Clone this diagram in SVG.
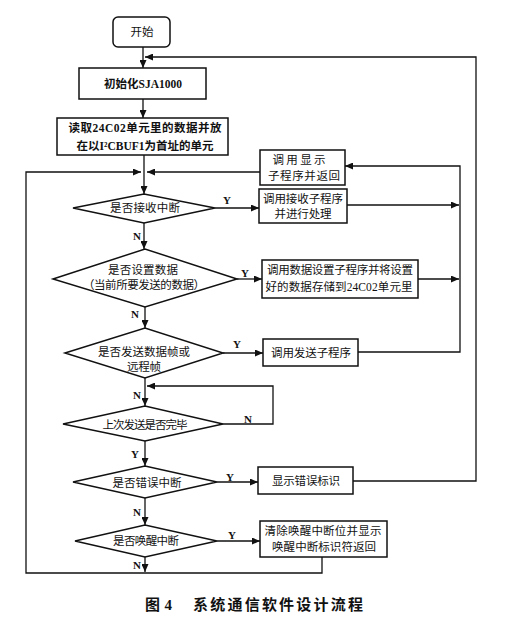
<svg xmlns="http://www.w3.org/2000/svg" width="506" height="617" viewBox="0 0 506 617">
<style>
.box{fill:#fff;stroke:#111;stroke-width:1.5}
.c{fill:none;stroke:#111;stroke-width:1.3}
.t{font-family:"Liberation Serif","Noto Sans CJK SC",serif;font-size:11.5px;text-anchor:middle;fill:#111}
.b{font-weight:bold}
.l{font-family:"Liberation Serif",serif;font-size:11px;font-weight:bold;text-anchor:middle;fill:#111}
.cap{font-family:"Liberation Serif","Noto Sans CJK SC",serif;font-size:15px;font-weight:bold;fill:#111}
</style>
<defs>
<marker id="ah" markerUnits="userSpaceOnUse" markerWidth="8" markerHeight="7" refX="8" refY="3.5" orient="auto">
<path d="M0,0 L8,3.5 L0,7 z" fill="#111"/>
</marker>
</defs>
<rect width="506" height="617" fill="#fff"/>
<g id="connectors">
<path class="c" d="M143,47 V68" marker-end="url(#ah)"/>
<path class="c" d="M143,99 V118" marker-end="url(#ah)"/>
<path class="c" d="M144,155 V194" marker-end="url(#ah)"/>
<path class="c" d="M322,557 V573 H26 V172 H141" marker-end="url(#ah)"/>
<path class="c" d="M260,172 H147" marker-end="url(#ah)"/>
<path class="c" d="M215,208 H259" marker-end="url(#ah)"/>
<path class="c" d="M347,205 H459" marker-end="url(#ah)"/>
<path class="c" d="M144,223 V249" marker-end="url(#ah)"/>
<path class="c" d="M237,279 H262" marker-end="url(#ah)"/>
<path class="c" d="M418,279 H459" marker-end="url(#ah)"/>
<path class="c" d="M145,307 V328" marker-end="url(#ah)"/>
<path class="c" d="M223,353 H263" marker-end="url(#ah)"/>
<path class="c" d="M358,352 H460 V166 H345" marker-end="url(#ah)"/>
<path class="c" d="M145,378 V406" marker-end="url(#ah)"/>
<path class="c" d="M223,424 H273 V386 H147" marker-end="url(#ah)"/>
<path class="c" d="M145,441 V466" marker-end="url(#ah)"/>
<path class="c" d="M217,482 H258" marker-end="url(#ah)"/>
<path class="c" d="M353,481 H476 V57 H145" marker-end="url(#ah)"/>
<path class="c" d="M145,498 V525" marker-end="url(#ah)"/>
<path class="c" d="M217,541 H260" marker-end="url(#ah)"/>
<path class="c" d="M145,557 V572" marker-end="url(#ah)"/>
<text class="l" x="227" y="204">Y</text>
<text class="l" x="137" y="240">N</text>
<text class="l" x="245" y="277">Y</text>
<text class="l" x="135" y="318">N</text>
<text class="l" x="237" y="348">Y</text>
<text class="l" x="137" y="399">N</text>
<text class="l" x="248" y="423">N</text>
<text class="l" x="135" y="458">Y</text>
<text class="l" x="230" y="481">Y</text>
<text class="l" x="137" y="516">N</text>
<text class="l" x="232" y="539">Y</text>
<text class="l" x="137" y="569">N</text>
</g>
<g id="start">
<rect class="box" x="113" y="17" width="57" height="30" rx="5"/>
<text class="t" x="142" y="36" textLength="23">开始</text>
</g>
<g id="init">
<rect class="box" x="79" y="68" width="127" height="31"/>
<text class="t b" x="143" y="88" textLength="78">初始化SJA1000</text>
</g>
<g id="read">
<rect class="box" x="57" y="118" width="171" height="37"/>
<text class="t b" x="145" y="132" textLength="153">读取24C02单元里的数据并放</text>
<text class="t b" x="145" y="150" textLength="137">在以I²CBUF1为首址的单元</text>
</g>
<g id="display">
<rect class="box" x="260" y="150" width="85" height="35"/>
<text class="t" x="299" y="164" textLength="53">调用显示</text>
<text class="t" x="304" y="180" textLength="72">子程序并返回</text>
</g>
<g id="d1">
<polygon class="box" points="73,208 144,194 215,208 144,223"/>
<text class="t" x="145" y="212" textLength="70">是否接收中断</text>
</g>
<g id="recv">
<rect class="box" x="259" y="189" width="88" height="34"/>
<text class="t" x="303" y="203" textLength="80">调用接收子程序</text>
<text class="t" x="303" y="218" textLength="57">并进行处理</text>
</g>
<g id="d2">
<polygon class="box" points="53,279 145,249 237,279 145,307"/>
<text class="t" x="143" y="274" textLength="70">是否设置数据</text>
<text class="t" x="144" y="289" textLength="122">（当前所要发送的数据）</text>
</g>
<g id="set">
<rect class="box" x="262" y="260" width="156" height="38"/>
<text class="t" x="340" y="274" textLength="146">调用数据设置子程序并将设置</text>
<text class="t" x="339" y="291" textLength="147">好的数据存储到24C02单元里</text>
</g>
<g id="d3">
<polygon class="box" points="65,353 145,328 223,353 145,378"/>
<text class="t" x="144" y="356" textLength="92">是否发送数据帧或</text>
<text class="t" x="144" y="371" textLength="34">远程帧</text>
</g>
<g id="send">
<rect class="box" x="263" y="339" width="95" height="27"/>
<text class="t" x="311" y="357" textLength="80">调用发送子程序</text>
</g>
<g id="d4">
<polygon class="box" points="63,424 145,406 223,424 145,441"/>
<text class="t" x="145" y="429" textLength="85">上次发送是否完毕</text>
</g>
<g id="d5">
<polygon class="box" points="73,482 145,466 217,482 145,498"/>
<text class="t" x="147" y="487" textLength="69">是否错误中断</text>
</g>
<g id="err">
<rect class="box" x="258" y="467" width="95" height="27"/>
<text class="t" x="306" y="485" textLength="68">显示错误标识</text>
</g>
<g id="d6">
<polygon class="box" points="75,541 145,525 217,541 145,557"/>
<text class="t" x="146" y="545" textLength="66">是否唤醒中断</text>
</g>
<g id="wake">
<rect class="box" x="260" y="521" width="127" height="36"/>
<text class="t" x="323" y="535" textLength="117">清除唤醒中断位并显示</text>
<text class="t" x="324" y="551" textLength="104">唤醒中断标识符返回</text>
</g>
<g id="caption">
<text class="cap" x="145" y="610" textLength="27">图 4</text>
<text class="cap" x="193" y="610" textLength="170">系统通信软件设计流程</text>
</g>
</svg>
